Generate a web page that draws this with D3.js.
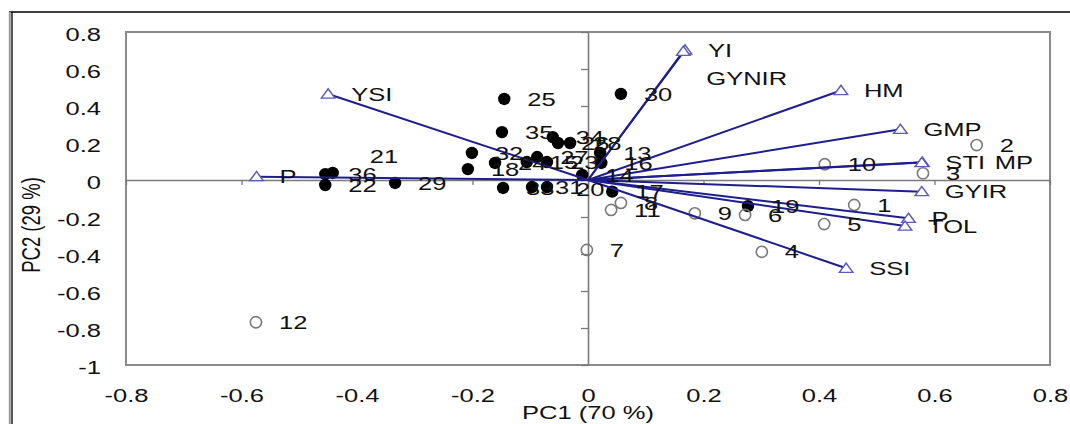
<!DOCTYPE html>
<html>
<head>
<meta charset="utf-8">
<script src="https://cdn.jsdelivr.net/npm/d3@7"></script>
<style>
  html, body { margin: 0; padding: 0; background: #fff; }
  svg { display: block; }
  text { font-family: "Liberation Sans", Arial, sans-serif; fill: #111; }
</style>
</head>
<body>
<svg id="chart" width="1070" height="424"></svg>
<script>
// ---------- data ----------
const xTickValues = [-0.8, -0.6, -0.4, -0.2, 0, 0.2, 0.4, 0.6, 0.8];
const xTickLabels = ["-0.8", "-0.6", "-0.4", "-0.2", "0", "0.2", "0.4", "0.6", "0.8"];
const yTickValues = [0.8, 0.6, 0.4, 0.2, 0, -0.2, -0.4, -0.6, -0.8, -1];
const yTickLabels = ["0.8", "0.6", "0.4", "0.2", "0", "-0.2", "-0.4", "-0.6", "-0.8", "-1"];
const xTitle = "PC1 (70 %)";
const yTitle = "PC2 (29 %)";

// trait vectors (loadings)
const vectorNames = ["YI", "GYNIR", "HM", "GMP", "STI", "MP", "GYIR", "P", "TOL", "SSI", "YSI", "P"];
const vectorPC1 = [0.168, 0.165, 0.438, 0.541, 0.579, 0.578, 0.578, 0.555, 0.549, 0.447, -0.450, -0.574];
const vectorPC2 = [0.703, 0.695, 0.484, 0.274, 0.096, 0.094, -0.063, -0.207, -0.249, -0.477, 0.465, 0.018];

// genotypes, group A (open circles)
const openNames = ["1", "2", "3", "4", "5", "6", "7", "8", "9", "10", "11", "12"];
const openPC1 = [0.461, 0.673, 0.580, 0.301, 0.409, 0.272, -0.002, 0.057, 0.185, 0.410, 0.040, -0.575];
const openPC2 = [-0.135, 0.189, 0.036, -0.388, -0.238, -0.189, -0.378, -0.124, -0.180, 0.085, -0.162, -0.769];

// genotypes, group B (filled circles)
const filledNames = ["13", "14", "15", "16", "17", "18", "19", "20", "21", "22", "23", "24",
                     "25", "26", "27", "28", "29", "30", "31", "32", "33", "34", "35", "36"];
const filledPC1 = [0.021, -0.010, -0.106, 0.023, 0.042, -0.208, 0.277, -0.071, -0.442, -0.455, -0.071, -0.161,
                   -0.145, -0.052, -0.088, -0.031, -0.334, 0.057, -0.097, -0.201, -0.147, -0.061, -0.149, -0.455];
const filledPC2 = [0.146, 0.027, 0.097, 0.092, -0.063, 0.059, -0.141, -0.038, 0.038, -0.027, 0.097, 0.092,
                   0.438, 0.200, 0.124, 0.200, -0.016, 0.465, -0.038, 0.146, -0.043, 0.232, 0.259, 0.032];

// ---------- layout ----------
const SX = 1.38;          // horizontal stretch of the original picture's text
const FONT = 18.5;
const plot = { left: 126, right: 1050, top: 32, bottom: 365 };
const svg = d3.select("#chart");

const x = d3.scaleLinear().domain([-0.8, 0.8]).range([plot.left, plot.right]);
const y = d3.scaleLinear().domain([-1, 0.8]).range([plot.bottom, plot.top]);

// outer frame of the figure
svg.append("line").attr("x1", 9).attr("x2", 1070).attr("y1", 12).attr("y2", 12)
  .attr("stroke", "#000").attr("stroke-width", 1.5);
svg.append("line").attr("x1", 9.8).attr("x2", 9.8).attr("y1", 12).attr("y2", 424)
  .attr("stroke", "#9a9a9a").attr("stroke-width", 2);
svg.append("line").attr("x1", 12).attr("x2", 12).attr("y1", 12).attr("y2", 424)
  .attr("stroke", "#000").attr("stroke-width", 1.3);

// plot frame
svg.append("rect").attr("x", plot.left).attr("y", plot.top)
  .attr("width", plot.right - plot.left).attr("height", plot.bottom - plot.top)
  .attr("fill", "none").attr("stroke", "#8a8a8a").attr("stroke-width", 2);

function stretch(sel, tx, ty) {
  sel.attr("x", 0).attr("y", 0).attr("dy", null)
     .attr("transform", `translate(${tx},${ty}) scale(${SX},1)`);
}

// tick labels (bottom)
const gxl = svg.append("g").attr("transform", `translate(0,${plot.bottom})`)
  .call(d3.axisBottom(x).tickValues(xTickValues).tickFormat((d, i) => xTickLabels[i])
        .tickSize(0).tickSizeOuter(0));
gxl.select(".domain").remove();
gxl.selectAll("text").each(function () { stretch(d3.select(this), 0, 37); })
  .attr("text-anchor", "middle").style("font-size", FONT + "px")
  .style("font-family", '"Liberation Sans", Arial, sans-serif').attr("fill", "#111");

// tick labels (left)
const gyl = svg.append("g").attr("transform", `translate(${plot.left},0)`)
  .call(d3.axisLeft(y).tickValues(yTickValues).tickFormat((d, i) => yTickLabels[i])
        .tickSize(0).tickSizeOuter(0));
gyl.select(".domain").remove();
gyl.selectAll("text").each(function () { stretch(d3.select(this), -25, 8.5); })
  .attr("text-anchor", "end").style("font-size", FONT + "px")
  .style("font-family", '"Liberation Sans", Arial, sans-serif').attr("fill", "#111");

// zero axes with tick marks
const gx0 = svg.append("g").attr("transform", `translate(0,${y(0)})`)
  .call(d3.axisBottom(x).tickValues(xTickValues).tickFormat("").tickSize(5).tickSizeOuter(0));
const gy0 = svg.append("g").attr("transform", `translate(${x(0)},0)`)
  .call(d3.axisLeft(y).tickValues(yTickValues).tickFormat("").tickSize(7).tickSizeOuter(0));
[gx0, gy0].forEach(g => {
  g.select(".domain").attr("stroke", "#7a7a7a").attr("stroke-width", 1.6);
  g.selectAll(".tick line").attr("stroke", "#7a7a7a").attr("stroke-width", 1.3);
});

// axis titles
svg.append("text").text(xTitle).attr("text-anchor", "middle")
  .style("font-size", FONT + "px")
  .attr("transform", `translate(${x(0)},419) scale(${SX},1)`);
svg.append("text").text(yTitle).attr("text-anchor", "middle")
  .style("font-size", FONT + "px")
  .attr("transform", `translate(40,225) scale(${SX},1) rotate(-90)`);

// ---------- marks ----------
const openPts = openNames.map((n, i) => ({ name: n, pc1: openPC1[i], pc2: openPC2[i] }));
const filledPts = filledNames.map((n, i) => ({ name: n, pc1: filledPC1[i], pc2: filledPC2[i] }));
const vectors = vectorNames.map((n, i) => ({ name: n, pc1: vectorPC1[i], pc2: vectorPC2[i], i }));

svg.append("g").selectAll("circle").data(filledPts).join("circle")
  .attr("cx", d => x(d.pc1)).attr("cy", d => y(d.pc2)).attr("r", 6.2)
  .attr("fill", "#000");

svg.append("g").selectAll("circle").data(openPts).join("circle")
  .attr("cx", d => x(d.pc1)).attr("cy", d => y(d.pc2)).attr("r", 5.6)
  .attr("fill", "none").attr("stroke", "#7a7a7a").attr("stroke-width", 1.6);

svg.append("g").selectAll("line").data(vectors).join("line")
  .attr("x1", x(0)).attr("y1", y(0))
  .attr("x2", d => x(d.pc1)).attr("y2", d => y(d.pc2))
  .attr("stroke", "#1e1e8c").attr("stroke-width", 2);

const tri = d3.symbol().type(d3.symbolTriangle).size(60);
svg.append("g").selectAll("path").data(vectors).join("path")
  .attr("d", tri)
  .attr("transform", d => `translate(${x(d.pc1)},${y(d.pc2) + 1}) scale(1.15,0.9)`)
  .attr("fill", "#fff").attr("stroke", "#5c5cb4").attr("stroke-width", 1.4);

// ---------- labels ----------
const DX = 23;
// label nudges where the original labels were moved by hand
const vecNudge = { 1: [0, 27], 5: [50, 0] };
const ptNudge = { "21": [14, -17], "20": [6, 2] };

function addLabel(text, px, py, nudge) {
  const [ndx, ndy] = nudge || [0, 0];
  svg.append("text").text(text)
    .style("font-size", FONT + "px")
    .attr("dy", "0.36em")
    .attr("transform", `translate(${px + DX + ndx},${py + ndy}) scale(${SX},1)`);
}

openPts.forEach(d => addLabel(d.name, x(d.pc1), y(d.pc2), ptNudge[d.name]));
filledPts.forEach(d => addLabel(d.name, x(d.pc1), y(d.pc2), ptNudge[d.name]));
vectors.forEach(d => addLabel(d.name, x(d.pc1), y(d.pc2), vecNudge[d.i]));
</script>
</body>
</html>
